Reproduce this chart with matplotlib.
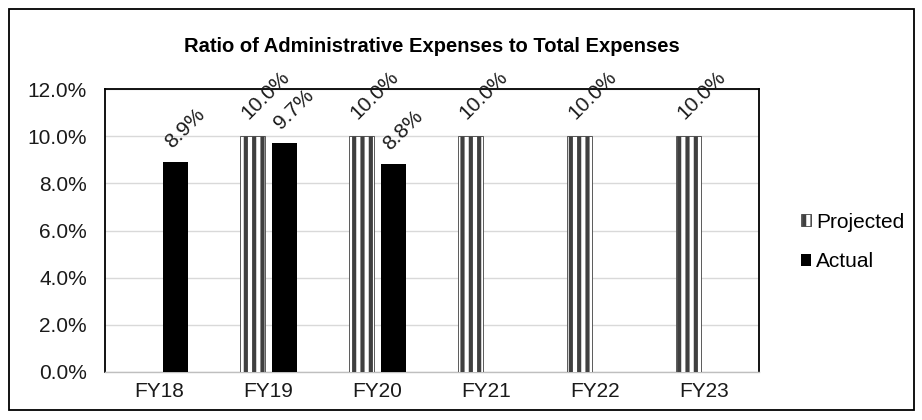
import numpy as np
import matplotlib.pyplot as plt
from matplotlib.patches import Rectangle
from matplotlib.ticker import FuncFormatter

plt.rcParams['font.family'] = ['Liberation Sans', 'DejaVu Sans']
plt.rcParams['hatch.color'] = '#404040'
plt.rcParams['hatch.linewidth'] = 3.0

# Data
years = ["FY18", "FY19", "FY20", "FY21", "FY22", "FY23"]
projected = [np.nan, 10.0, 10.0, 10.0, 10.0, 10.0]
actual = [8.9, 9.7, 8.8, np.nan, np.nan, np.nan]

fig = plt.figure(figsize=(9.22, 4.2), dpi=100)
ax = fig.add_axes([0.1139, 0.1143, 0.7093, 0.6737])

# outer chart border
fig.patches.append(Rectangle((0.0098, 0.024), 0.981, 0.955, transform=fig.transFigure,
                             fill=False, edgecolor='black', linewidth=1.3))

x = np.arange(len(years))
w = 0.23
off = 0.143

b_proj = ax.bar(x - off, projected, w, facecolor='white', edgecolor='#404040',
                linewidth=0.6, hatch='||', label='Projected', zorder=3)
b_act = ax.bar(x + off, actual, w, color='black', label='Actual', zorder=3)

# rotated data labels (anchored at the start of the text)
for bars, vals, dxy in [(b_proj, projected, (-3, 11.5)), (b_act, actual, (-2, 9.5))]:
    for rect, v in zip(bars, vals):
        if np.isnan(v):
            continue
        ax.annotate(f"{v:.1f}%", (rect.get_x() + rect.get_width() / 2, v),
                    xytext=dxy, textcoords='offset points',
                    rotation=45, rotation_mode='anchor', ha='left', va='baseline',
                    fontsize=15, color='#1a1a1a', clip_on=False, zorder=5)

ax.set_xlim(-0.5, len(years) - 0.5)
ax.set_ylim(0, 12)
ax.set_yticks(np.arange(0, 12.1, 2))
ax.yaxis.set_major_formatter(FuncFormatter(lambda v, p: f"{v:.1f}%"))
ax.set_xticks(x)
ax.set_xticklabels(years)
ax.tick_params(axis='both', length=0, labelsize=15, colors='#1a1a1a')
ax.tick_params(axis='y', pad=13)
ax.tick_params(axis='x', pad=7)
ax.grid(axis='y', color='#d9d9d9', linewidth=1.0, zorder=0)
ax.set_axisbelow(True)

for s in ['top', 'left', 'right']:
    ax.spines[s].set_color('black')
    ax.spines[s].set_linewidth(1.3)
ax.spines['bottom'].set_color('#bfbfbf')
ax.spines['bottom'].set_linewidth(1.0)

fig.text(0.4685, 0.89, "Ratio of Administrative Expenses to Total Expenses",
         ha='center', va='center', fontsize=14.5, fontweight='bold', color='black')

fig.legend(handles=[b_proj, b_act], loc='center left', bbox_to_anchor=(0.848, 0.424),
           frameon=False, fontsize=15, handlelength=0.5, handleheight=0.5,
           handletextpad=0.25, labelspacing=1.0)

fig.savefig("out.png", dpi=100)
